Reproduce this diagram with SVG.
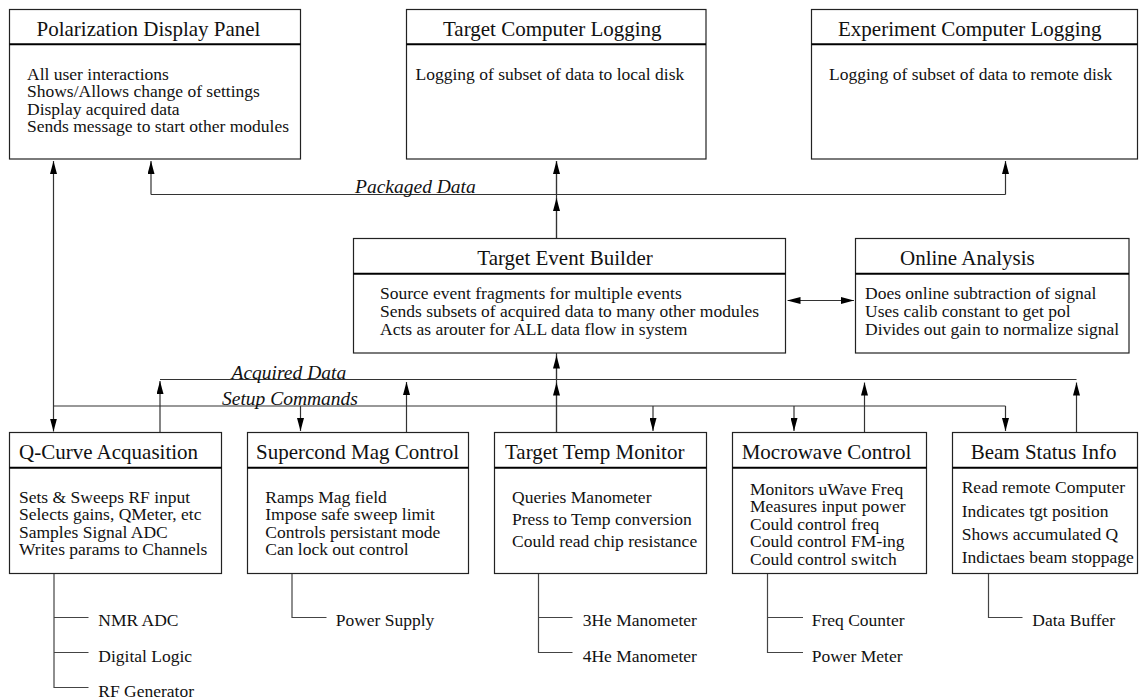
<svg xmlns="http://www.w3.org/2000/svg" width="1139" height="700" viewBox="0 0 1139 700">
  <style>
    .box { fill: #fff; stroke: #222; stroke-width: 1.2; }
    .sep { stroke: #000; stroke-width: 2; }
    .title { font-family: "Liberation Serif", "Times New Roman", serif; font-size: 21px; fill: #111; }
    .body { font-family: "Liberation Serif", "Times New Roman", serif; font-size: 17.5px; fill: #111; }
    .lbl { font-family: "Liberation Serif", "Times New Roman", serif; font-size: 19.5px; font-style: italic; fill: #111; }
    .wire { fill: none; stroke: #333; stroke-width: 1.2; }
    .arr { fill: none; stroke: #333; stroke-width: 1.2; marker-end: url(#head); }
    .both { fill: none; stroke: #333; stroke-width: 1.2; marker-start: url(#head); marker-end: url(#head); }
    .tree { fill: none; stroke: #444; stroke-width: 1.2; }
  </style>
  <defs>
    <marker id="head" viewBox="0 0 13 7" refX="13" refY="3.5" markerWidth="13" markerHeight="7" markerUnits="userSpaceOnUse" orient="auto-start-reverse">
      <path d="M0,0 L13,3.5 L0,7 z" fill="#000"/>
    </marker>
  </defs>

  <rect width="1139" height="700" fill="#fff"/>

  <!-- connectors -->
  <g id="connectors">
    <!-- Packaged Data bus -->
    <path class="wire" d="M151,194.5 H1005.5"/>
    <path class="arr" d="M151,194.5 V161"/>
    <path class="arr" d="M1005.5,194.5 V161"/>
    <path class="wire" d="M556.5,238.5 V161"/>
    <path class="arr" d="M556.5,238.5 V198"/>
    <path class="arr" d="M556.5,194.5 V161"/>

    <!-- display panel <-> Q-curve -->
    <path class="both" d="M53.5,161 V431.5"/>

    <!-- event builder <-> online analysis -->
    <path class="both" d="M787.5,300.5 H854"/>

    <!-- Acquired Data bus -->
    <path class="wire" d="M160,379.5 H1076.5"/>
    <path class="arr" d="M160,432.5 V381"/>
    <path class="arr" d="M406.5,432.5 V382"/>
    <path class="wire" d="M556.5,432.5 V353"/>
    <path class="arr" d="M556.5,432.5 V382.5"/>
    <path class="arr" d="M556.5,379.5 V355.5"/>
    <path class="arr" d="M864.5,432.5 V382.5"/>
    <path class="arr" d="M1076.5,432.5 V382.5"/>

    <!-- Setup Commands bus -->
    <path class="wire" d="M53.5,406 H1005.5"/>
    <path class="arr" d="M300.5,406 V431"/>
    <path class="arr" d="M653,406 V431"/>
    <path class="arr" d="M794,406 V431"/>
    <path class="arr" d="M1005.5,406 V431"/>

    <!-- hardware branches -->
    <path class="tree" d="M54,573.5 V687.5 H88.5 M54,617.5 H88.5 M54,652.5 H88.5"/>
    <path class="tree" d="M292,573.5 V617.5 H326.5"/>
    <path class="tree" d="M538.5,573.5 V652.5 H572.5 M538.5,617.5 H572.5"/>
    <path class="tree" d="M767.5,573.5 V652.5 H803 M767.5,617.5 H803"/>
    <path class="tree" d="M988.5,573.5 V617.5 H1022.5"/>

    <text class="lbl" x="355" y="193">Packaged Data</text>
    <text class="lbl" x="231.5" y="378.5">Acquired Data</text>
    <text class="lbl" x="222" y="405">Setup Commands</text>
  </g>

  <!-- upper row -->
  <g id="polarization-display-panel">
    <rect class="box" x="9.5" y="9.5" width="291" height="149.5"/>
    <line class="sep" x1="9.5" y1="44.3" x2="300.5" y2="44.3"/>
    <text class="title" x="36.5" y="35.5">Polarization Display Panel</text>
    <text class="body" x="27" y="80">All user interactions</text>
    <text class="body" x="27" y="97.3">Shows/Allows change of settings</text>
    <text class="body" x="27" y="114.6">Display acquired data</text>
    <text class="body" x="27" y="131.9">Sends message to start other modules</text>
  </g>

  <g id="target-computer-logging">
    <rect class="box" x="406.5" y="9.5" width="299.5" height="149.5"/>
    <line class="sep" x1="406.5" y1="44.3" x2="706" y2="44.3"/>
    <text class="title" x="443" y="35.5">Target Computer Logging</text>
    <text class="body" x="415.5" y="80">Logging of subset of data to local disk</text>
  </g>

  <g id="experiment-computer-logging">
    <rect class="box" x="811.5" y="9.5" width="326" height="149.5"/>
    <line class="sep" x1="811.5" y1="44.3" x2="1137.5" y2="44.3"/>
    <text class="title" x="838" y="35.5">Experiment Computer Logging</text>
    <text class="body" x="829" y="80">Logging of subset of data to remote disk</text>
  </g>

  <!-- middle row -->
  <g id="target-event-builder">
    <rect class="box" x="353.5" y="238.5" width="432" height="114.5"/>
    <line class="sep" x1="353.5" y1="273.7" x2="785.5" y2="273.7"/>
    <text class="title" x="477.3" y="265">Target Event Builder</text>
    <text class="body" x="380" y="299.3">Source event fragments for multiple events</text>
    <text class="body" x="380" y="317.3">Sends subsets of acquired data to many other modules</text>
    <text class="body" x="380" y="335.3">Acts as arouter for ALL data flow in system</text>
  </g>

  <g id="online-analysis">
    <rect class="box" x="855.5" y="238.5" width="273.5" height="114.5"/>
    <line class="sep" x1="855.5" y1="273.7" x2="1129" y2="273.7"/>
    <text class="title" x="900" y="265">Online Analysis</text>
    <text class="body" x="865" y="299.3">Does online subtraction of signal</text>
    <text class="body" x="865" y="317.3">Uses calib constant to get pol</text>
    <text class="body" x="865" y="335.3">Divides out gain to normalize signal</text>
  </g>

  <!-- lower row -->
  <g id="q-curve-acquasition">
    <rect class="box" x="9.5" y="432.5" width="212" height="141"/>
    <line class="sep" x1="9.5" y1="467.7" x2="221.5" y2="467.7"/>
    <text class="title" x="19" y="459.3">Q-Curve Acquasition</text>
    <text class="body" x="19" y="502.7">Sets &amp; Sweeps RF input</text>
    <text class="body" x="19" y="520.2">Selects gains, QMeter, etc</text>
    <text class="body" x="19" y="537.7">Samples Signal ADC</text>
    <text class="body" x="19" y="555.2">Writes params to Channels</text>
    <text class="body" x="98.3" y="625.7">NMR ADC</text>
    <text class="body" x="98.3" y="661.5">Digital Logic</text>
    <text class="body" x="98.3" y="696.5">RF Generator</text>
  </g>

  <g id="supercond-mag-control">
    <rect class="box" x="247.5" y="432.5" width="221" height="141"/>
    <line class="sep" x1="247.5" y1="467.7" x2="468.5" y2="467.7"/>
    <text class="title" x="256" y="459.3">Supercond Mag Control</text>
    <text class="body" x="265.3" y="502.7">Ramps Mag field</text>
    <text class="body" x="265.3" y="520.2">Impose safe sweep limit</text>
    <text class="body" x="265.3" y="537.7">Controls persistant mode</text>
    <text class="body" x="265.3" y="555.2">Can lock out control</text>
    <text class="body" x="335.7" y="625.7">Power Supply</text>
  </g>

  <g id="target-temp-monitor">
    <rect class="box" x="494.5" y="432.5" width="212" height="141"/>
    <line class="sep" x1="494.5" y1="467.7" x2="706.5" y2="467.7"/>
    <text class="title" x="505" y="459.3">Target Temp Monitor</text>
    <text class="body" x="512" y="503">Queries Manometer</text>
    <text class="body" x="512" y="525">Press to Temp conversion</text>
    <text class="body" x="512" y="547">Could read chip resistance</text>
    <text class="body" x="582.7" y="625.7">3He Manometer</text>
    <text class="body" x="582.7" y="661.5">4He Manometer</text>
  </g>

  <g id="mocrowave-control">
    <rect class="box" x="732.5" y="432.5" width="194" height="141"/>
    <line class="sep" x1="732.5" y1="467.7" x2="926.5" y2="467.7"/>
    <text class="title" x="741.7" y="459.3">Mocrowave Control</text>
    <text class="body" x="750" y="494.5">Monitors uWave Freq</text>
    <text class="body" x="750" y="512">Measures input power</text>
    <text class="body" x="750" y="529.5">Could control freq</text>
    <text class="body" x="750" y="547">Could control FM-ing</text>
    <text class="body" x="750" y="564.5">Could control switch</text>
    <text class="body" x="811.7" y="625.7">Freq Counter</text>
    <text class="body" x="811.7" y="661.5">Power Meter</text>
  </g>

  <g id="beam-status-info">
    <rect class="box" x="952.5" y="432.5" width="185" height="141"/>
    <line class="sep" x1="952.5" y1="467.7" x2="1137.5" y2="467.7"/>
    <text class="title" x="970.7" y="459.3">Beam Status Info</text>
    <text class="body" x="961.7" y="493.3">Read remote Computer</text>
    <text class="body" x="961.7" y="516.5">Indicates tgt position</text>
    <text class="body" x="961.7" y="539.5">Shows accumulated Q</text>
    <text class="body" x="961.7" y="562.5">Indictaes beam stoppage</text>
    <text class="body" x="1032.3" y="625.7">Data Buffer</text>
  </g>
</svg>
